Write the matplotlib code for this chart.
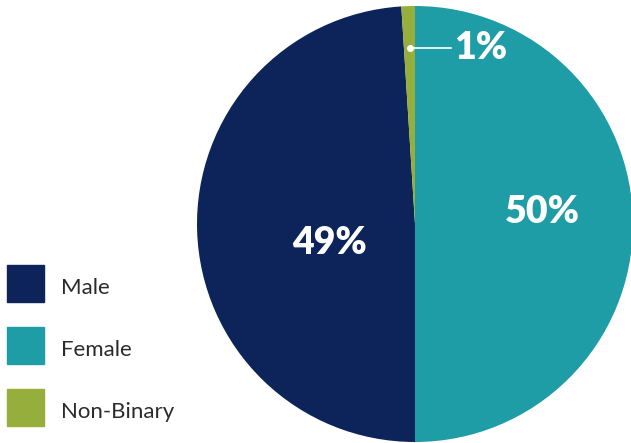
import matplotlib.pyplot as plt
from matplotlib.patches import Rectangle

# gender split
labels = ['Female', 'Male', 'Non-Binary']
shares = [50, 49, 1]
colors = ['#1E9DA6', '#0C2459', '#95AE3C']

legend_order = ['Male', 'Female', 'Non-Binary']

plt.rcParams['font.family'] = ['Lato', 'DejaVu Sans']

W, H = 631, 443
fig = plt.figure(figsize=(W / 100, H / 100), dpi=100)
ax = fig.add_axes([0, 0, 1, 1])

def py(y):
    # pixel row (top-down) to axis y
    return H - y

cx, cy, r = 415, 224, 218
wedges, _ = ax.pie(shares, colors=colors, startangle=90, counterclock=False,
                   center=(cx, py(cy)), radius=r, frame=True,
                   wedgeprops=dict(linewidth=0))
ax.set_xlim(0, W)
ax.set_ylim(0, H)
ax.set_aspect('equal')
ax.axis('off')

# percentage labels
pct = dict(zip(labels, shares))
lbl = dict(color='white', fontsize=27, fontweight='heavy', va='center')
ax.text(330, py(243), f"{pct['Male']}%", ha='center', **lbl)
ax.text(542, py(212), f"{pct['Female']}%", ha='center', **lbl)
ax.plot([410, 451], [py(48), py(48)], color='white', lw=1.2)
ax.plot([410], [py(48)], 'o', color='white', ms=4)
ax.text(454, py(48), f"{pct['Non-Binary']}%", ha='left', **lbl)

# legend
cmap = dict(zip(labels, colors))
for i, name in enumerate(legend_order):
    y0 = 265 + i * 62
    ax.add_patch(Rectangle((7, py(y0 + 37)), 37, 37, color=cmap[name]))
    ax.text(61, py(y0 + 23), name, color='#2b2b2b', fontsize=16, ha='left', va='center')

fig.savefig('out.png', dpi=100)
